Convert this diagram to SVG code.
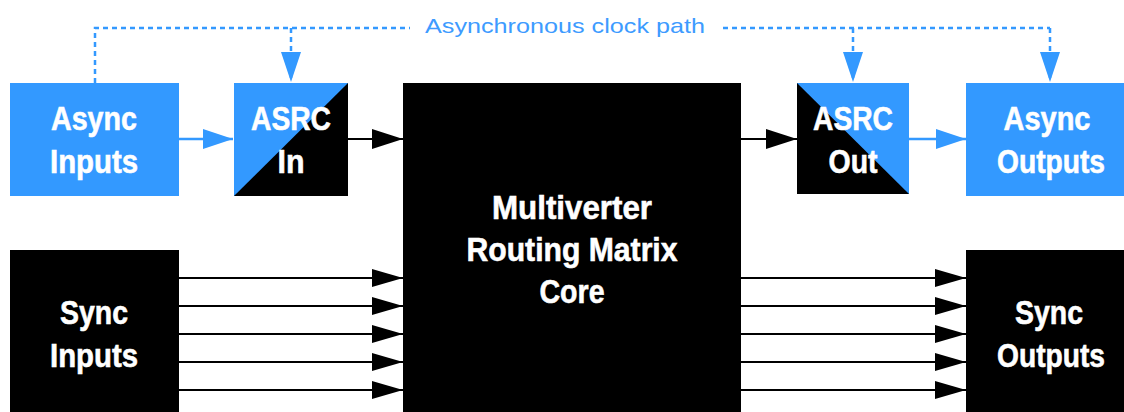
<svg xmlns="http://www.w3.org/2000/svg" width="1124" height="412" viewBox="0 0 1124 412">
<style>
.blue{fill:#3399ff}
.blk{fill:#000}
.t{font-family:"Liberation Sans",Arial,sans-serif;font-weight:bold;font-size:34px;fill:#fff;stroke:#fff;stroke-width:0.6;text-anchor:middle}
.lbl{font-family:"Liberation Sans",Arial,sans-serif;font-size:21px;fill:#3d9bff}
.clk{fill:none;stroke:#3399ff;stroke-width:2.5;stroke-dasharray:5 4}
.bl{fill:none;stroke:#3399ff;stroke-width:2.5}
.k{fill:none;stroke:#000;stroke-width:2}
</style>
<defs>
<marker id="ab" markerUnits="userSpaceOnUse" markerWidth="30" markerHeight="20" refX="30" refY="10" orient="auto"><path d="M0,0 L30,10 L0,20 z" fill="#3399ff"/></marker>
<marker id="ak" markerUnits="userSpaceOnUse" markerWidth="31" markerHeight="20" refX="31" refY="10" orient="auto"><path d="M0,0 L31,10 L0,20 z" fill="#000"/></marker>
<marker id="as" markerUnits="userSpaceOnUse" markerWidth="31" markerHeight="18" refX="31" refY="9" orient="auto"><path d="M0,0 L31,9 L0,18 z" fill="#000"/></marker>
</defs>
<rect width="1124" height="412" fill="#fff"/>
<g id="connectors">
<path class="clk" d="M95,83 V28 H410"/>
<path class="clk" d="M723,28 H1050"/>
<path class="clk" d="M291,28 V82" marker-end="url(#ab)"/>
<path class="clk" d="M853,28 V82" marker-end="url(#ab)"/>
<path class="clk" d="M1050,28 V82" marker-end="url(#ab)"/>
<path class="bl" d="M179,139 H233" marker-end="url(#ab)"/>
<path class="bl" d="M909,139 H966" marker-end="url(#ab)"/>
<path class="k" d="M348,139 H403" marker-end="url(#ak)"/>
<path class="k" d="M741,139 H797" marker-end="url(#ak)"/>
<path class="k" d="M179,278 H403" marker-end="url(#as)"/>
<path class="k" d="M179,306 H403" marker-end="url(#as)"/>
<path class="k" d="M179,334 H403" marker-end="url(#as)"/>
<path class="k" d="M179,362 H403" marker-end="url(#as)"/>
<path class="k" d="M179,390 H403" marker-end="url(#as)"/>
<path class="k" d="M741,278 H966" marker-end="url(#as)"/>
<path class="k" d="M741,306 H966" marker-end="url(#as)"/>
<path class="k" d="M741,334 H966" marker-end="url(#as)"/>
<path class="k" d="M741,362 H966" marker-end="url(#as)"/>
<path class="k" d="M741,390 H966" marker-end="url(#as)"/>
<text class="lbl" x="425" y="33" textLength="280" lengthAdjust="spacingAndGlyphs">Asynchronous clock path</text>
</g>
<g id="async-inputs">
<rect class="blue" x="10" y="83" width="169" height="113"/>
<text class="t" x="94" y="130" textLength="86" lengthAdjust="spacingAndGlyphs">Async</text>
<text class="t" x="94" y="173" textLength="88" lengthAdjust="spacingAndGlyphs">Inputs</text>
</g>
<g id="asrc-in">
<rect class="blk" x="234" y="83" width="114" height="113"/>
<path class="blue" d="M234,83 H348 L234,196 z"/>
<text class="t" x="291" y="130" textLength="80" lengthAdjust="spacingAndGlyphs">ASRC</text>
<text class="t" x="291" y="173" textLength="27" lengthAdjust="spacingAndGlyphs">In</text>
</g>
<g id="core">
<rect class="blk" x="403" y="83" width="338" height="329"/>
<text class="t" x="572" y="219" textLength="160" lengthAdjust="spacingAndGlyphs">Multiverter</text>
<text class="t" x="572" y="261" textLength="211" lengthAdjust="spacingAndGlyphs">Routing Matrix</text>
<text class="t" x="572" y="303" textLength="65" lengthAdjust="spacingAndGlyphs">Core</text>
</g>
<g id="asrc-out">
<rect class="blk" x="797" y="83" width="112" height="111"/>
<path class="blue" d="M797,83 H909 V194 z"/>
<text class="t" x="853" y="130" textLength="80" lengthAdjust="spacingAndGlyphs">ASRC</text>
<text class="t" x="853" y="173" textLength="49" lengthAdjust="spacingAndGlyphs">Out</text>
</g>
<g id="async-outputs">
<rect class="blue" x="966" y="83" width="158" height="113"/>
<text class="t" x="1047" y="130" textLength="87" lengthAdjust="spacingAndGlyphs">Async</text>
<text class="t" x="1051" y="173" textLength="108" lengthAdjust="spacingAndGlyphs">Outputs</text>
</g>
<g id="sync-inputs">
<rect class="blk" x="10" y="250" width="169" height="162"/>
<text class="t" x="94" y="324" textLength="68" lengthAdjust="spacingAndGlyphs">Sync</text>
<text class="t" x="94" y="367" textLength="88" lengthAdjust="spacingAndGlyphs">Inputs</text>
</g>
<g id="sync-outputs">
<rect class="blk" x="966" y="250" width="158" height="162"/>
<text class="t" x="1049" y="324" textLength="68" lengthAdjust="spacingAndGlyphs">Sync</text>
<text class="t" x="1051" y="367" textLength="108" lengthAdjust="spacingAndGlyphs">Outputs</text>
</g>
</svg>
